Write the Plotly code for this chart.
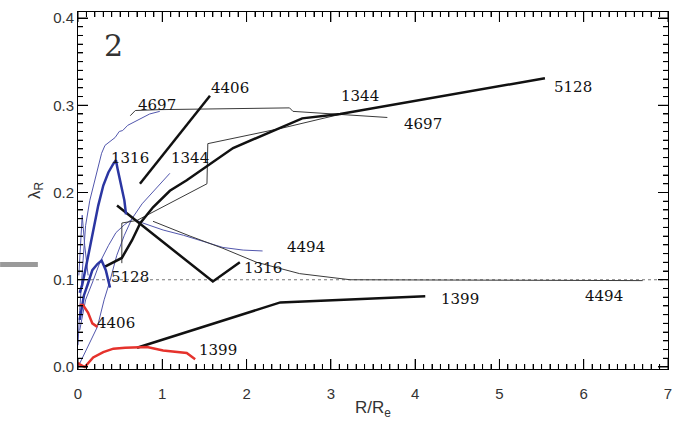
import numpy as np
import plotly.graph_objects as go

# ---- lambda_R profiles -------------------------------------------------
# thick blue (integral-field part, fast rotators)
b1316_x = [0.02, 0.05, 0.11, 0.18, 0.24, 0.30, 0.36, 0.42, 0.45, 0.47, 0.51, 0.55, 0.57]
b1316_y = [0.085, 0.094, 0.122, 0.157, 0.185, 0.208, 0.223, 0.233, 0.237, 0.227, 0.210, 0.191, 0.175]
b5128_x = [0.02, 0.07, 0.12, 0.17, 0.23, 0.28, 0.33, 0.38]
b5128_y = [0.054, 0.082, 0.096, 0.111, 0.118, 0.122, 0.111, 0.091]

# thin blue profiles
t4697_x = [0.00, 0.02, 0.06, 0.09, 0.14, 0.18, 0.24, 0.28, 0.32, 0.38, 0.44, 0.49, 0.53, 0.59, 0.65, 0.71, 0.76, 0.85, 0.97]
t4697_y = [0.025, 0.065, 0.122, 0.162, 0.191, 0.206, 0.229, 0.245, 0.254, 0.258, 0.263, 0.270, 0.271, 0.277, 0.280, 0.283, 0.286, 0.290, 0.293]
t1344_x = [0.00, 0.12, 0.23, 0.31, 0.38, 0.46, 0.55, 0.64, 0.76, 0.92, 1.09]
t1344_y = [0.000, 0.025, 0.046, 0.077, 0.099, 0.128, 0.151, 0.170, 0.187, 0.204, 0.222]
t4494_x = [0.02, 0.09, 0.18, 0.26, 0.36, 0.45, 0.55, 0.65, 0.77, 1.01, 1.25, 1.48, 1.72, 1.96, 2.19]
t4494_y = [0.042, 0.077, 0.099, 0.120, 0.139, 0.154, 0.163, 0.170, 0.165, 0.157, 0.151, 0.144, 0.137, 0.134, 0.133]
tspike_x = [0.01, 0.05, 0.08, 0.12]
tspike_y = [0.105, 0.174, 0.139, 0.105]

# red (slow rotators)
r1399_x = [0.00, 0.02, 0.08, 0.18, 0.30, 0.42, 0.56, 0.70, 0.82, 1.01, 1.29, 1.39]
r1399_y = [0.005, 0.003, 0.000, 0.011, 0.017, 0.021, 0.022, 0.023, 0.023, 0.019, 0.016, 0.009]
r4406_x = [0.02, 0.06, 0.12, 0.17, 0.23]
r4406_y = [0.071, 0.071, 0.062, 0.050, 0.046]

# thick black (extended data)
k5128_x = [0.32, 0.52, 0.64, 0.74, 0.89, 1.09, 1.29, 1.84, 2.66, 3.11, 5.54]
k5128_y = [0.115, 0.125, 0.145, 0.165, 0.183, 0.202, 0.214, 0.251, 0.285, 0.290, 0.331]
k4406_x = [0.735, 1.566]
k4406_y = [0.210, 0.311]
k1316_x = [0.463, 1.60, 1.92]
k1316_y = [0.185, 0.098, 0.120]
k1399_x = [0.70, 2.40, 4.12]
k1399_y = [0.022, 0.074, 0.081]

# thin black (extended data)
k4697_x = [0.62, 0.68, 0.97, 2.51, 2.55, 3.67]
k4697_y = [0.288, 0.294, 0.295, 0.297, 0.293, 0.286]
k1344_x = [0.52, 0.52, 0.70, 1.53, 1.54, 2.43, 3.17]
k1344_y = [0.119, 0.165, 0.168, 0.210, 0.256, 0.274, 0.291]
k4494_x = [0.89, 1.33, 1.72, 2.12, 2.63, 3.23, 6.70]
k4494_y = [0.167, 0.150, 0.136, 0.120, 0.107, 0.100, 0.099]

# reference level
ref_x = [0.0, 7.0]
ref_y = [0.1, 0.1]

# galaxy labels
label_text = ["4697", "4406", "1316", "1344", "1344", "5128", "4697", "4494",
              "1316", "5128", "4494", "1399", "4406", "1399"]
label_x = [0.94, 1.80, 0.62, 1.33, 3.35, 5.87, 4.09, 2.70, 2.19, 0.62, 6.24, 4.53, 0.45, 1.66]
label_y = [0.300, 0.320, 0.239, 0.239, 0.311, 0.321, 0.279, 0.137, 0.114, 0.103, 0.081, 0.078, 0.051, 0.019]

THICK_BLUE = "#2b36a2"
THIN_BLUE = "#5257ad"
RED = "#e5322c"
BLACK = "#111111"
GREY = "#3a3a3a"

# axis geometry
X_RANGE = [0.0, 7.0]
Y_RANGE = [-0.0023, 0.4069]
WIDTH, HEIGHT = 678, 430
MARGIN = dict(l=78, r=10, t=12, b=61)
PLOT_W = WIDTH - MARGIN["l"] - MARGIN["r"]
PLOT_H = HEIGHT - MARGIN["t"] - MARGIN["b"]

fig = go.Figure()


def line(x, y, color, width, dash="solid"):
    fig.add_trace(go.Scatter(x=x, y=y, mode="lines", hoverinfo="skip",
                             line=dict(color=color, width=width, dash=dash)))


line(ref_x, ref_y, "#777777", 1, "dot")

line(t4697_x, t4697_y, THIN_BLUE, 1)
line(t1344_x, t1344_y, THIN_BLUE, 1)
line(t4494_x, t4494_y, THIN_BLUE, 1)
line(tspike_x, tspike_y, THIN_BLUE, 1)

line(k4697_x, k4697_y, GREY, 1)
line(k1344_x, k1344_y, GREY, 1)
line(k4494_x, k4494_y, GREY, 1)

line(k5128_x, k5128_y, BLACK, 2.5)
line(k4406_x, k4406_y, BLACK, 2.5)
line(k1316_x, k1316_y, BLACK, 2.5)
line(k1399_x, k1399_y, BLACK, 2.5)

line(b1316_x, b1316_y, THICK_BLUE, 2.5)
line(b5128_x, b5128_y, THICK_BLUE, 2.5)
line(r1399_x, r1399_y, RED, 2.5)
line(r4406_x, r4406_y, RED, 2.5)

# inward frame ticks on all four sides (major 10 px, minor 5 px)
x_per_px = (X_RANGE[1] - X_RANGE[0]) / PLOT_W
y_per_px = (Y_RANGE[1] - Y_RANGE[0]) / PLOT_H
tick_x, tick_y = [], []
for v in np.round(np.arange(0.0, 7.0001, 0.1), 2).tolist():
    ln = (10 if abs(v - round(v)) < 1e-6 else 5) * y_per_px
    tick_x += [v, v, None, v, v, None]
    tick_y += [Y_RANGE[0], Y_RANGE[0] + ln, None, Y_RANGE[1], Y_RANGE[1] - ln, None]
for v in np.round(np.arange(0.0, 0.4001, 0.01), 3).tolist():
    ln = (10 if abs(v * 10 - round(v * 10)) < 1e-6 else 5) * x_per_px
    tick_x += [X_RANGE[0], X_RANGE[0] + ln, None, X_RANGE[1], X_RANGE[1] - ln, None]
    tick_y += [v, v, None, v, v, None]
fig.add_trace(go.Scatter(x=tick_x, y=tick_y, mode="lines", hoverinfo="skip",
                         connectgaps=False, line=dict(color="black", width=1)))

# galaxy names next to their profiles
for txt, lx, ly in zip(label_text, label_x, label_y):
    fig.add_annotation(x=lx, y=ly, text=txt, showarrow=False, xref="x", yref="y",
                       font=dict(family="DejaVu Serif", size=15, color="#111111"))

fig.add_annotation(x=0.42, y=0.368, text="2", showarrow=False, xref="x", yref="y",
                   font=dict(family="DejaVu Serif", size=30, color="#333333"))

# stray marks outside the frame
fig.add_shape(type="rect", xref="paper", yref="paper", x0=-0.132, x1=-0.068,
              y0=0.286, y1=0.300, line=dict(width=0), fillcolor="#9a9a9a")
fig.add_shape(type="rect", xref="paper", yref="paper", x0=0.914, x1=0.922,
              y0=-0.2, y1=-0.175, line=dict(width=0), fillcolor="#222222")

tick_font = dict(family="Liberation Sans", size=15, color="#333333")

fig.update_layout(
    template="none",
    width=WIDTH, height=HEIGHT,
    margin=MARGIN,
    paper_bgcolor="white", plot_bgcolor="white",
    showlegend=False,
    font=dict(family="Liberation Sans", color="#333333"),
    xaxis=dict(range=X_RANGE, showline=True, linecolor="black", linewidth=1,
               mirror="allticks", automargin=False,
               ticks="inside", ticklen=10, tickcolor="black", tickwidth=1,
               showgrid=False, zeroline=False, tickfont=tick_font, dtick=1,
               ticklabelstandoff=11,
               minor=dict(dtick=0.1, ticklen=5, ticks="inside", tickcolor="black"),
               title=dict(text="R/R<sub>e</sub>", standoff=0,
                          font=dict(family="Liberation Sans", size=17, color="#333333"))),
    yaxis=dict(range=Y_RANGE, showline=True, linecolor="black", linewidth=1,
               mirror="allticks", automargin=False,
               ticks="inside", ticklen=10, tickcolor="black", tickwidth=1,
               showgrid=False, zeroline=False, tickfont=tick_font,
               dtick=0.1, tickformat=".1f",
               minor=dict(dtick=0.01, ticklen=5, ticks="inside", tickcolor="black"),
               title=dict(text="λ<sub>R</sub>", standoff=8,
                          font=dict(family="Liberation Sans", size=17, color="#333333"))),
)

fig.write_html("out.html")
